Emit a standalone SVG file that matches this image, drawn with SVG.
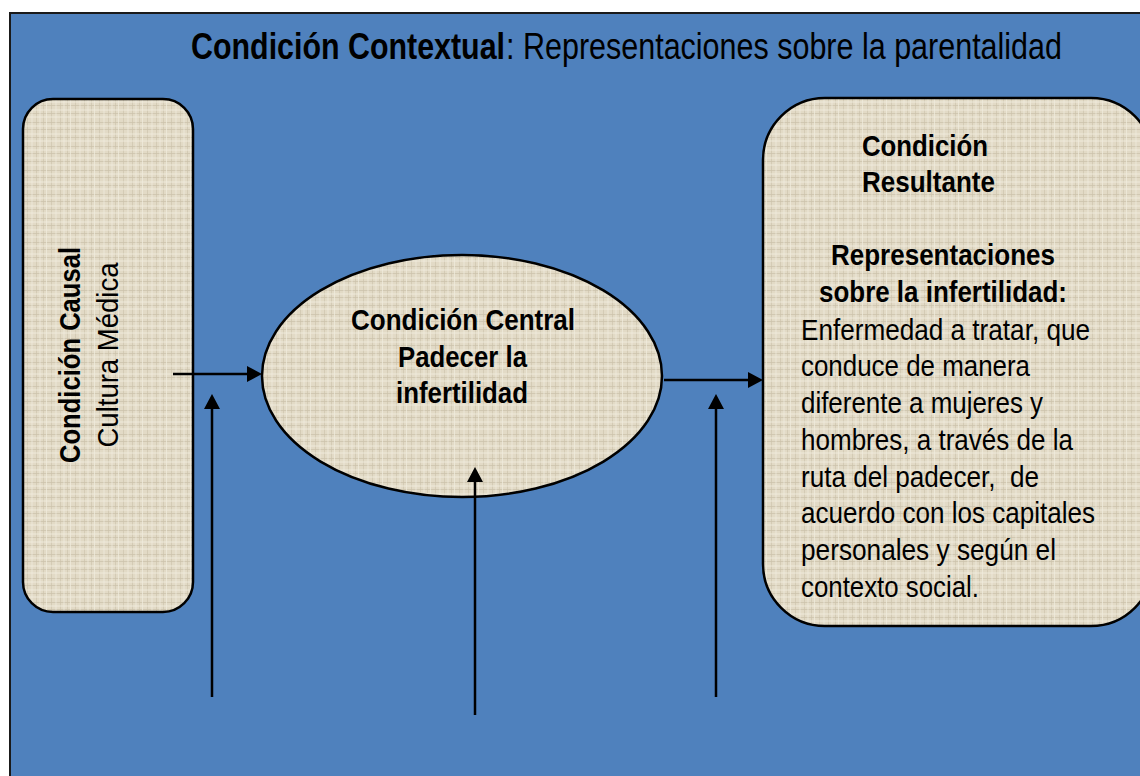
<svg xmlns="http://www.w3.org/2000/svg" width="1140" height="776" viewBox="0 0 1140 776">
  <style>
    text { font-family: "Liberation Sans Narrow", "Arial Narrow", "Liberation Sans", Arial, sans-serif; fill: #000; }
    .b { font-weight: bold; }
    .t { font-size: 36px; }
    .n { font-size: 30px; }
    .shape { fill: url(#linen); stroke: #000; stroke-width: 2.5; }
    .conn { stroke: #000; stroke-width: 2.5; fill: none; marker-end: url(#ah); }
  </style>
  <defs>
    <pattern id="linen" patternUnits="userSpaceOnUse" width="24" height="24">
      <rect width="24" height="24" fill="#E2DAC6"/>
      <path d="M0 2.5H24M0 9.5H24M0 17.5H24" stroke="#CBC1AA" stroke-width="1" opacity="0.7"/>
      <path d="M3.5 0V24M12.5 0V24M19.5 0V24" stroke="#CBC1AA" stroke-width="1" opacity="0.6"/>
      <path d="M0 6H24M0 14H24M0 21H24" stroke="#F1ECDF" stroke-width="1" opacity="0.8"/>
      <path d="M8 0V24M16 0V24M22.5 0V24" stroke="#F1ECDF" stroke-width="1" opacity="0.7"/>
    </pattern>
    <marker id="ah" markerUnits="userSpaceOnUse" markerWidth="15" markerHeight="16" viewBox="0 0 15 16" refX="9" refY="8" orient="auto">
      <path d="M0,0 L15,8 L0,16 z" fill="#000"/>
    </marker>
  </defs>

  <rect x="0" y="0" width="1140" height="776" fill="#fff"/>
  <rect id="frame" x="10" y="13" width="1150" height="790" fill="#4F81BD" stroke="#1a1a1a" stroke-width="2"/>

  <g id="title">
    <text class="t b" x="191" y="59" textLength="314" lengthAdjust="spacingAndGlyphs">Condición Contextual</text>
    <text class="t" x="506" y="59" textLength="556" lengthAdjust="spacingAndGlyphs">: Representaciones sobre la parentalidad</text>
  </g>

  <g id="node-causal">
    <rect class="shape" x="23" y="99" width="170" height="513" rx="30" ry="30"/>
    <text class="n b" transform="translate(80,355) rotate(-90)" text-anchor="middle" textLength="216" lengthAdjust="spacingAndGlyphs">Condición Causal</text>
    <text class="n" transform="translate(118,355) rotate(-90)" text-anchor="middle" textLength="185" lengthAdjust="spacingAndGlyphs">Cultura Médica</text>
  </g>

  <g id="node-central">
    <ellipse class="shape" cx="462" cy="376" rx="200" ry="121"/>
    <text class="n b" x="351" y="330" textLength="224" lengthAdjust="spacingAndGlyphs">Condición Central</text>
    <text class="n b" x="398" y="367" textLength="129" lengthAdjust="spacingAndGlyphs">Padecer la</text>
    <text class="n b" x="396" y="403" textLength="132" lengthAdjust="spacingAndGlyphs">infertilidad</text>
  </g>

  <g id="node-resultante">
    <rect class="shape" x="763" y="98" width="390" height="528" rx="62" ry="62"/>
    <text class="n b" x="862" y="156" textLength="126" lengthAdjust="spacingAndGlyphs">Condición</text>
    <text class="n b" x="862" y="192" textLength="133" lengthAdjust="spacingAndGlyphs">Resultante</text>
    <text class="n b" x="831" y="265" textLength="224" lengthAdjust="spacingAndGlyphs">Representaciones</text>
    <text class="n b" x="819" y="302" textLength="248" lengthAdjust="spacingAndGlyphs">sobre la infertilidad:</text>
    <text class="n" x="801" y="340" textLength="289" lengthAdjust="spacingAndGlyphs">Enfermedad a tratar, que</text>
    <text class="n" x="801" y="376" textLength="229" lengthAdjust="spacingAndGlyphs">conduce de manera</text>
    <text class="n" x="801" y="413" textLength="242" lengthAdjust="spacingAndGlyphs">diferente a mujeres y</text>
    <text class="n" x="801" y="450" textLength="272" lengthAdjust="spacingAndGlyphs">hombres, a través de la</text>
    <text class="n" x="801" y="487" textLength="238" lengthAdjust="spacingAndGlyphs" xml:space="preserve">ruta del padecer,  de</text>
    <text class="n" x="801" y="523" textLength="294" lengthAdjust="spacingAndGlyphs">acuerdo con los capitales</text>
    <text class="n" x="801" y="560" textLength="255" lengthAdjust="spacingAndGlyphs">personales y según el</text>
    <text class="n" x="801" y="597" textLength="178" lengthAdjust="spacingAndGlyphs">contexto social.</text>
  </g>

  <g id="connectors">
    <line class="conn" x1="173" y1="374" x2="256" y2="374"/>
    <line class="conn" x1="664" y1="380" x2="757" y2="380"/>
    <line class="conn" x1="212" y1="697" x2="212" y2="400"/>
    <line class="conn" x1="475" y1="715" x2="475" y2="473"/>
    <line class="conn" x1="716" y1="697" x2="716" y2="400"/>
  </g>
</svg>
